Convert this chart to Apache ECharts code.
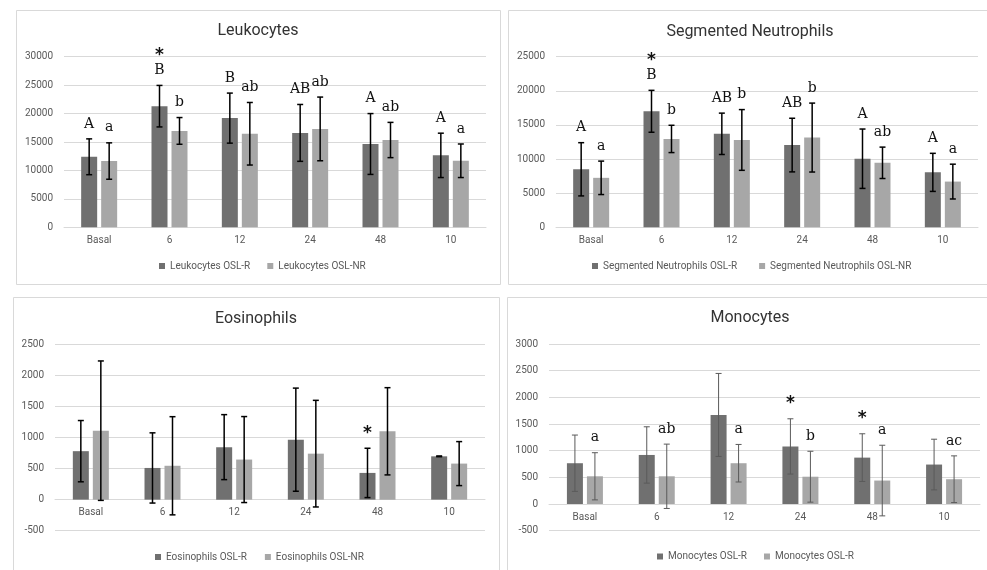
<!DOCTYPE html>
<html><head><meta charset="utf-8">
<script src="https://cdn.jsdelivr.net/npm/echarts@6/dist/echarts.min.js"></script>
<style>html,body{margin:0;padding:0;background:#fff}#c{width:987px;height:570px}</style>
</head><body><div id="c"></div>
<script>
// ---------- DATA ----------
const categories = ['Basal', '6', '12', '24', '48', '10'];

const leukNames = ['Leukocytes OSL-R', 'Leukocytes OSL-NR'];
const leukR = [12400, 21300, 19200, 16600, 14650, 12650];
const leukRSd = [3150, 3650, 4400, 5000, 5350, 3900];
const leukNR = [11650, 16950, 16450, 17300, 15350, 11700];
const leukNRSd = [3200, 2350, 5500, 5600, 3100, 2950];
const leukRLetters = ['A', 'B', 'B', 'AB', 'A', 'A'];
const leukNRLetters = ['a', 'b', 'ab', 'ab', 'ab', 'a'];
const leukRStars = [0, 1, 0, 0, 0, 0];
const leukNRStars = [0, 0, 0, 0, 0, 0];
const leukTicks = [0, 30000, 5000];

const neutNames = ['Segmented Neutrophils OSL-R', 'Segmented Neutrophils OSL-NR'];
const neutR = [8500, 17000, 13700, 12050, 10050, 8050];
const neutRSd = [3900, 3070, 3030, 3930, 4350, 2790];
const neutNR = [7250, 12950, 12800, 13150, 9450, 6700];
const neutNRSd = [2450, 2000, 4450, 5050, 2300, 2550];
const neutRLetters = ['A', 'B', 'AB', 'AB', 'A', 'A'];
const neutNRLetters = ['a', 'b', 'b', 'b', 'ab', 'a'];
const neutRStars = [0, 1, 0, 0, 0, 0];
const neutNRStars = [0, 0, 0, 0, 0, 0];
const neutTicks = [0, 25000, 5000];

const eosNames = ['Eosinophils OSL-R', 'Eosinophils OSL-NR'];
const eosR = [780, 510, 845, 965, 430, 697];
const eosRSd = [493, 565, 523, 830, 397, 6];
const eosNR = [1110, 545, 645, 740, 1100, 580];
const eosNRSd = [1122, 790, 692, 858, 702, 354];
const eosRLetters = ['', '', '', '', '', ''];
const eosNRLetters = ['', '', '', '', '', ''];
const eosRStars = [0, 0, 0, 0, 1, 0];
const eosNRStars = [0, 0, 0, 0, 0, 0];
const eosTicks = [-500, 2500, 500];

const monoNames = ['Monocytes OSL-R', 'Monocytes OSL-R '];
const monoR = [765, 920, 1670, 1080, 870, 740];
const monoRSd = [528, 528, 778, 518, 447, 475];
const monoNR = [520, 520, 765, 512, 440, 465];
const monoNRSd = [442, 603, 352, 477, 662, 438];
const monoRLetters = ['', '', '', '', '', ''];
const monoNRLetters = ['a', 'ab', 'a', 'b', 'a', 'ac'];
const monoRStars = [0, 0, 0, 1, 1, 0];
const monoNRStars = [0, 0, 0, 0, 0, 0];
const monoTicks = [-500, 3000, 500];

// ---------- LAYOUT ----------
const panels = [
  {title: 'Leukocytes', names: leukNames, r: leukR, rSd: leukRSd, nr: leukNR, nrSd: leukNRSd,
   rL: leukRLetters, nrL: leukNRLetters, rS: leukRStars, nrS: leukNRStars, ticks: leukTicks,
   grid: {left: 64, top: 56.7, width: 422, height: 170.6}, tpos: [258, 31],
   legend: {left: 159, top: 261, gap: 17}, border: [16.5, 10.5, 484, 274],
   err: {color: '#000', width: 1.5}},
  {title: 'Segmented Neutrophils', names: neutNames, r: neutR, rSd: neutRSd, nr: neutNR, nrSd: neutNRSd,
   rL: neutRLetters, nrL: neutNRLetters, rS: neutRStars, nrS: neutNRStars, ticks: neutTicks,
   grid: {left: 556, top: 56.7, width: 422, height: 170.6}, tpos: [750, 31.5],
   legend: {left: 592, top: 261, gap: 22}, border: [508.5, 10.5, 490, 274],
   err: {color: '#000', width: 1.5}},
  {title: 'Eosinophils', names: eosNames, r: eosR, rSd: eosRSd, nr: eosNR, nrSd: eosNRSd,
   rL: eosRLetters, nrL: eosNRLetters, rS: eosRStars, nrS: eosNRStars, ticks: eosTicks,
   grid: {left: 55, top: 344.3, width: 430, height: 186.4}, tpos: [256, 319],
   legend: {left: 155, top: 552, gap: 18}, border: [13.5, 297.5, 486, 300],
   err: {color: '#000', width: 1.5}},
  {title: 'Monocytes', names: monoNames, r: monoR, rSd: monoRSd, nr: monoNR, nrSd: monoNRSd,
   rL: monoRLetters, nrL: monoNRLetters, rS: monoRStars, nrS: monoNRStars, ticks: monoTicks,
   grid: {left: 549, top: 344, width: 431, height: 186.7}, tpos: [750, 318],
   legend: {left: 657, top: 551.5, gap: 17}, border: [507.5, 297.5, 490, 300],
   err: {color: '#5a5a5a', width: 1}}
];

const DARK = '#707070', LIGHT = '#a7a7a7';
const axisFont = {fontFamily: 'Roboto', fontSize: 10, color: '#595959'};

const option = {
  animation: false,
  backgroundColor: '#fff',
  grid: [], xAxis: [], yAxis: [], series: [], legend: [], graphic: []
};

function errSeries(pi, vals, sds, letters, stars, off, err) {
  return {
    type: 'custom', xAxisIndex: pi, yAxisIndex: pi, z: 5, silent: true,
    data: vals.map((v, i) => [i, v, sds[i]]),
    encode: {x: 0, y: 1},
    renderItem: function (params, api) {
      const i = api.value(0), m = api.value(1), s = api.value(2);
      const t = api.coord([i, m + s]), b = api.coord([i, m - s]);
      const x = t[0] + off;
      const cw = 3;
      const ls = {stroke: err.color, lineWidth: err.width};
      const ch = [
        {type: 'line', shape: {x1: x, y1: t[1], x2: x, y2: b[1]}, style: ls},
        {type: 'line', shape: {x1: x - cw, y1: t[1], x2: x + cw, y2: t[1]}, style: ls},
        {type: 'line', shape: {x1: x - cw, y1: b[1], x2: x + cw, y2: b[1]}, style: ls}
      ];
      const L = letters[params.dataIndex];
      if (L) {
        ch.push({type: 'text', x: x, y: t[1] - 15,
          style: {text: L, font: '14px "DejaVu Serif"', fill: '#111', align: 'center', verticalAlign: 'middle'}});
      }
      if (stars[params.dataIndex]) {
        const sy = L ? t[1] - 34 : t[1] - 19;
        ch.push({type: 'text', x: x, y: sy + 4,
          style: {text: '*', font: 'bold 17px "DejaVu Sans"', fill: '#111', align: 'center', verticalAlign: 'middle'}});
      }
      return {type: 'group', children: ch};
    }
  };
}

panels.forEach((p, pi) => {
  const min = p.ticks[0], max = p.ticks[1];
  // distance (px) from the bottom of the plot to the zero line
  const zeroShift = (0 - min) / (max - min) * p.grid.height;
  option.grid.push(Object.assign({containLabel: false}, p.grid));
  option.xAxis.push({
    type: 'category', gridIndex: pi, data: categories, position: 'bottom',
    offset: -zeroShift,
    axisTick: {show: false},
    axisLine: {onZero: false, lineStyle: {color: '#d9d9d9', width: 1}},
    axisLabel: Object.assign({margin: 8}, axisFont)
  });
  option.yAxis.push({
    type: 'value', gridIndex: pi, min: min, max: max, interval: p.ticks[2],
    axisLine: {show: false}, axisTick: {show: false},
    axisLabel: Object.assign({margin: 11, formatter: v => String(v)}, axisFont),
    splitLine: {lineStyle: {color: '#d9d9d9', width: 1}}
  });
  option.series.push({
    type: 'bar', name: p.names[0], xAxisIndex: pi, yAxisIndex: pi, data: p.r,
    barWidth: 16, barGap: '25%', itemStyle: {color: DARK}, emphasis: {disabled: true}
  });
  option.series.push({
    type: 'bar', name: p.names[1], xAxisIndex: pi, yAxisIndex: pi, data: p.nr,
    barWidth: 16, barGap: '25%', itemStyle: {color: LIGHT}, emphasis: {disabled: true}
  });
  option.series.push(errSeries(pi, p.r, p.rSd, p.rL, p.rS, -10, p.err));
  option.series.push(errSeries(pi, p.nr, p.nrSd, p.nrL, p.nrS, 10, p.err));
  option.legend.push({
    data: p.names, left: p.legend.left, top: p.legend.top, padding: 0,
    itemGap: p.legend.gap, itemWidth: 6, itemHeight: 6, icon: 'rect',
    selectedMode: false, textStyle: axisFont
  });
  option.graphic.push({
    type: 'rect', silent: true, z: -10,
    shape: {x: p.border[0], y: p.border[1], width: p.border[2], height: p.border[3]},
    style: {fill: 'none', stroke: '#d9d9d9', lineWidth: 1}
  });
  option.graphic.push({
    type: 'text', silent: true, x: p.tpos[0], y: p.tpos[1],
    style: {text: p.title, font: '16px Roboto', fill: '#333', align: 'center', verticalAlign: 'middle'}
  });
});

const chart = echarts.init(document.getElementById('c'), null, {renderer: 'canvas'});
chart.setOption(option);
</script>
</body></html>
